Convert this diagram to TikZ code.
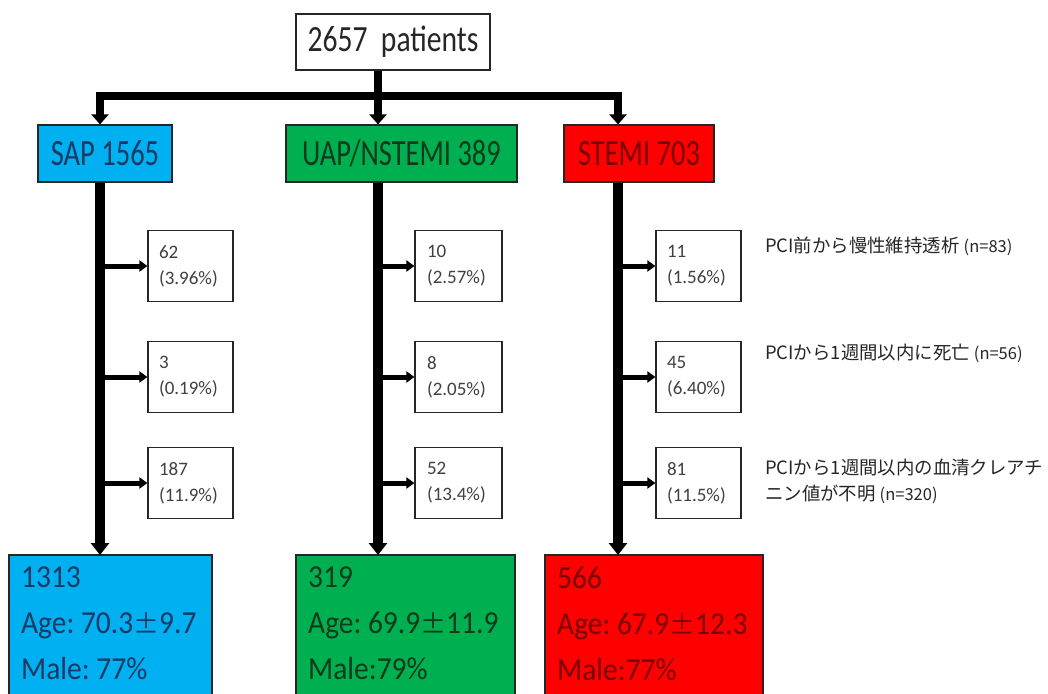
\documentclass[tikz,border=0pt]{standalone}
\usepackage{fontspec}
\setmainfont{Carlito}
\newfontfamily\topf{Carlito}[FakeStretch=0.8]
\newfontfamily\hdrf{Carlito}[FakeStretch=0.77]
\newfontfamily\botf{Carlito}[FakeStretch=0.92]
\newfontfamily\jpf{Noto Sans CJK JP}
\newcommand\nsmallfont{\jpf\fontsize{16.5}{22}\selectfont}
\newcommand\pmsign{{\jpf\fontsize{26}{30}\selectfont ±}}
\usetikzlibrary{arrows.meta}
\definecolor{sapfill}{HTML}{00B0F0}
\definecolor{saptext}{HTML}{1A3A66}
\definecolor{uapfill}{HTML}{00B050}
\definecolor{uaptext}{HTML}{0F3A1C}
\definecolor{stfill}{HTML}{FF0000}
\definecolor{sttext}{HTML}{7A0000}
\definecolor{edge}{HTML}{262626}
\frenchspacing
\tikzset{
  topbox/.style={draw=edge, line width=1.2pt, fill=white, inner sep=0pt, minimum width=194pt, minimum height=56pt, font=\topf\fontsize{37}{40}\selectfont, text=black!85},
  hdrbox/.style={draw=edge, line width=1.2pt, inner sep=0pt, minimum height=57pt, font=\hdrf\fontsize{37}{40}\selectfont},
  smallbox/.style={draw=edge, line width=1.2pt, fill=white, inner sep=0pt, minimum width=85pt, minimum height=71pt, text width=63pt, align=left, font=\fontsize{19}{26}\selectfont, text=black!75},
  botbox/.style={draw=edge, line width=1.2pt, inner sep=0pt, anchor=north west},
  bottext/.style={anchor=north west, align=left, inner sep=0pt, font=\botf\fontsize{32}{46}\selectfont},
  jptext/.style={anchor=west, align=left, inner sep=0pt, font=\jpf\fontsize{18.4}{26}\selectfont, text=black!85},
  hdrarrow/.style={line width=8pt, line join=miter, -{Triangle[width=17pt,length=10pt]}},
  trunk/.style={line width=10pt, -{Triangle[width=18pt,length=12pt]}},
  smallarrow/.style={line width=5pt, -{Triangle[width=11pt,length=8pt]}}
}
\begin{document}
\begin{tikzpicture}[x=1pt,y=-1pt]
\useasboundingbox (0,0) rectangle (1048,693);
\clip (0,0) rectangle (1048,693);
\fill[white] (0,0) rectangle (1048,693);

% column coordinates
\coordinate (cA) at (100,0);
\coordinate (cB) at (378,0);
\coordinate (cC) at (618,0);
\coordinate (bar) at (0,96);

% top box
\node[topbox] (top) at (393,42) {2657~~patients};

% header boxes
\node[hdrbox, fill=sapfill, text=saptext, minimum width=134pt] (sap) at (105,153.5) {SAP 1565};
\node[hdrbox, fill=uapfill, text=uaptext, minimum width=231pt] (uap) at (401.5,153.5) {UAP/NSTEMI 389};
\node[hdrbox, fill=stfill, text=sttext, minimum width=150pt] (stemi) at (639,153.5) {STEMI 703};

% bottom boxes
\path[botbox, fill=sapfill] (9,555) rectangle (212,705);
\path[botbox, fill=uapfill] (296,555) rectangle (515,705);
\path[botbox, fill=stfill] (545,555) rectangle (763,705);
\coordinate (sapb) at (100,555);
\coordinate (uapb) at (378,555);
\coordinate (stb) at (618,555);
\node[bottext, text=saptext] (sapt) at (21,567) {1313\\Age: 70.3\pmsign9.7\\Male: 77\%};
\node[bottext, text=uaptext] (uapt) at (308,567) {319\\Age: 69.9\pmsign11.9\\Male:79\%};
\node[bottext, text=sttext] (stt) at (557,567) {566\\Age: 67.9\pmsign12.3\\Male:77\%};

% small boxes
\node[smallbox] (s1) at (190.5,266) {62\\(3.96\%)};
\node[smallbox] (s2) at (190.5,377) {3\\(0.19\%)};
\node[smallbox] (s3) at (190.5,483) {187\\(11.9\%)};
\node[smallbox, minimum width=87pt] (u1) at (458.5,266) {10\\(2.57\%)};
\node[smallbox, minimum width=87pt] (u2) at (458.5,377) {8\\(2.05\%)};
\node[smallbox, minimum width=87pt] (u3) at (458.5,483) {52\\(13.4\%)};
\node[smallbox] (t1) at (698.5,266) {11\\(1.56\%)};
\node[smallbox] (t2) at (698.5,377) {45\\(6.40\%)};
\node[smallbox] (t3) at (698.5,483) {81\\(11.5\%)};

% right-hand notes
\node[jptext] (n1) at (765,246) {PCI前から慢性維持透析 {\nsmallfont (n=83)}};
\node[jptext] (n2) at (765,353) {PCIから1週間以内に死亡 {\nsmallfont (n=56)}};
\node[jptext] (n3) at (765,481) {PCIから1週間以内の血清クレアチ\\ニン値が不明 {\nsmallfont (n=320)}};

% connectors from top box
\draw[hdrarrow] (top.south -| cB) -- (uap.north -| cB);
\draw[hdrarrow] (bar -| cB) -| (sap.north -| cA);
\draw[hdrarrow] (bar -| cB) -| (stemi.north -| cC);

% trunks
\draw[trunk] (sap.south -| cA) -- (sapb);
\draw[trunk] (uap.south -| cB) -- (uapb);
\draw[trunk] (stemi.south -| cC) -- (stb);

% side arrows
\foreach \b/\c in {s1/cA,s2/cA,s3/cA,u1/cB,u2/cB,u3/cB,t1/cC,t2/cC,t3/cC}{
  \draw[smallarrow] (\b.west -| \c) -- (\b.west);
}
\end{tikzpicture}
\end{document}
